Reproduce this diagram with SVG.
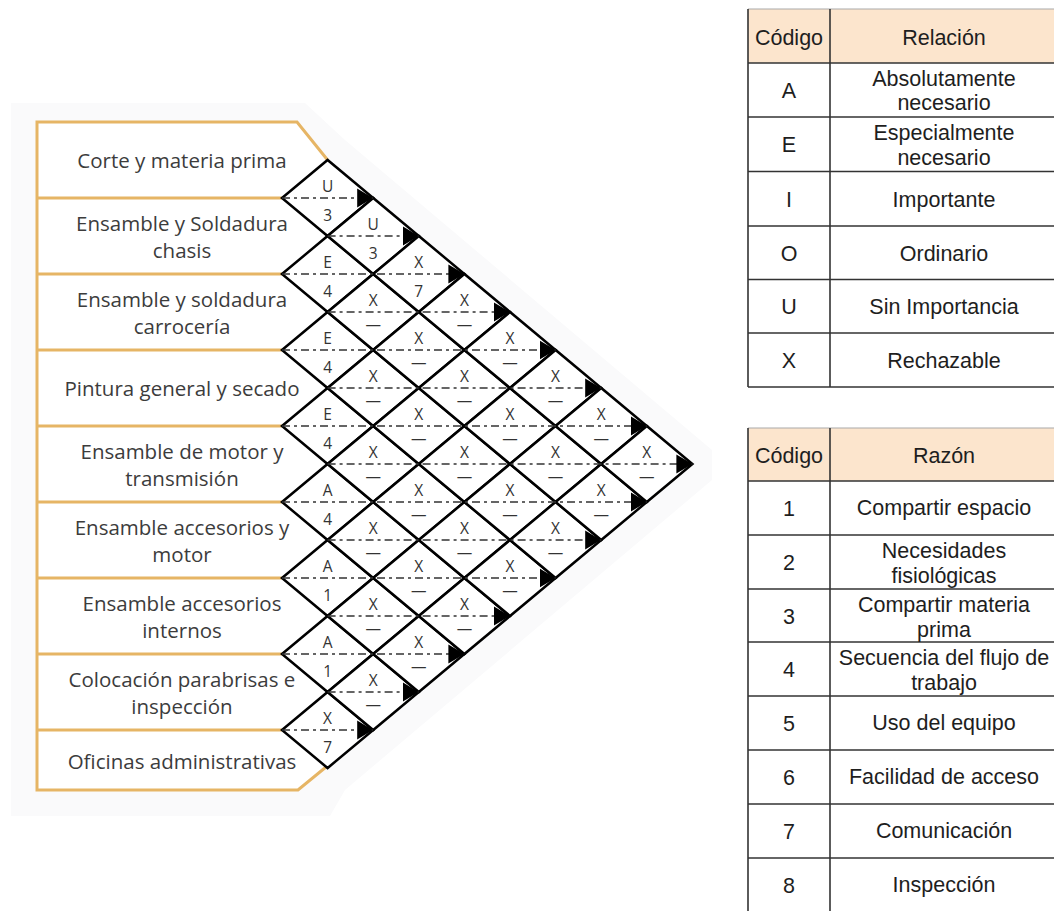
<svg xmlns="http://www.w3.org/2000/svg" width="1054" height="911" viewBox="0 0 1054 911">
<defs>
<style>
.lbl{font-family:"Open Sans","Noto Sans",sans-serif;font-size:20.5px;fill:#3c3c3c;text-anchor:middle}
.sep{stroke:#E6B565;stroke-width:3;fill:none}
.dia{fill:#fff;stroke:#000;stroke-width:2.5;stroke-linejoin:miter}
.ct{font-family:"Open Sans","Noto Sans",sans-serif;font-size:15.5px;fill:#333;text-anchor:middle}
.con{stroke:#333;stroke-width:1.6;stroke-dasharray:8 4 3 4;fill:none;marker-end:url(#arr)}
.tt{font-family:"Liberation Sans",Arial,sans-serif;font-size:21.5px;fill:#1e1e1e;text-anchor:middle}
.tl{stroke:#333;stroke-width:1.6;fill:none}
.hd{fill:#FCE5CD}
</style>
<polygon id="dia" class="dia" points="-45.6,0 0,-38 45.6,0 0,38"/>
<marker id="arr" markerUnits="userSpaceOnUse" markerWidth="16" markerHeight="20" viewBox="0 0 15 18" refX="15" refY="9" orient="auto">
<path d="M0,0 L15,9 L0,18 Z" fill="#000"/>
</marker>
</defs>
<rect width="1054" height="911" fill="#fff"/>
<polygon points="11,103 305,103 345,140 712,450 712,480 345,790 330,816 11,816" fill="#fafafb"/>

<g id="frame">
<polygon points="37,122 297,122 327.6,160 282,198 327.6,236 282,274 327.6,312 282,350 327.6,388 282,426 327.6,464 282,502 327.6,540 282,578 327.6,616 282,654 327.6,692 282,730 327.6,768 298,790 37,790" fill="#fff" stroke="none"/>
<polyline class="sep" points="327.6,160 297,122 37,122 37,790 298,790 326,767"/>
<line class="sep" x1="37" y1="198" x2="282" y2="198"/>
<line class="sep" x1="37" y1="274" x2="282" y2="274"/>
<line class="sep" x1="37" y1="350" x2="282" y2="350"/>
<line class="sep" x1="37" y1="426" x2="282" y2="426"/>
<line class="sep" x1="37" y1="502" x2="282" y2="502"/>
<line class="sep" x1="37" y1="578" x2="282" y2="578"/>
<line class="sep" x1="37" y1="654" x2="282" y2="654"/>
<line class="sep" x1="37" y1="730" x2="282" y2="730"/>
</g>

<g id="dept-0"><text class="lbl" x="182" y="168">Corte y materia prima</text></g>
<g id="dept-1"><text class="lbl" x="182" y="231">Ensamble y Soldadura</text><text class="lbl" x="182" y="258">chasis</text></g>
<g id="dept-2"><text class="lbl" x="182" y="307">Ensamble y soldadura</text><text class="lbl" x="182" y="334">carrocería</text></g>
<g id="dept-3"><text class="lbl" x="182" y="396">Pintura general y secado</text></g>
<g id="dept-4"><text class="lbl" x="182" y="459">Ensamble de motor y</text><text class="lbl" x="182" y="486">transmisión</text></g>
<g id="dept-5"><text class="lbl" x="182" y="535">Ensamble accesorios y</text><text class="lbl" x="182" y="562">motor</text></g>
<g id="dept-6"><text class="lbl" x="182" y="611">Ensamble accesorios</text><text class="lbl" x="182" y="638">internos</text></g>
<g id="dept-7"><text class="lbl" x="182" y="687">Colocación parabrisas e</text><text class="lbl" x="182" y="714">inspección</text></g>
<g id="dept-8"><text class="lbl" x="182" y="769">Oficinas administrativas</text></g>

<g id="cells">
<g id="c-0-1" transform="translate(327.6,198)"><use href="#dia"/></g>
<g id="c-1-2" transform="translate(327.6,274)"><use href="#dia"/></g>
<g id="c-2-3" transform="translate(327.6,350)"><use href="#dia"/></g>
<g id="c-3-4" transform="translate(327.6,426)"><use href="#dia"/></g>
<g id="c-4-5" transform="translate(327.6,502)"><use href="#dia"/></g>
<g id="c-5-6" transform="translate(327.6,578)"><use href="#dia"/></g>
<g id="c-6-7" transform="translate(327.6,654)"><use href="#dia"/></g>
<g id="c-7-8" transform="translate(327.6,730)"><use href="#dia"/></g>
<g id="c-0-2" transform="translate(373.2,236)"><use href="#dia"/></g>
<g id="c-1-3" transform="translate(373.2,312)"><use href="#dia"/></g>
<g id="c-2-4" transform="translate(373.2,388)"><use href="#dia"/></g>
<g id="c-3-5" transform="translate(373.2,464)"><use href="#dia"/></g>
<g id="c-4-6" transform="translate(373.2,540)"><use href="#dia"/></g>
<g id="c-5-7" transform="translate(373.2,616)"><use href="#dia"/></g>
<g id="c-6-8" transform="translate(373.2,692)"><use href="#dia"/></g>
<g id="c-0-3" transform="translate(418.8,274)"><use href="#dia"/></g>
<g id="c-1-4" transform="translate(418.8,350)"><use href="#dia"/></g>
<g id="c-2-5" transform="translate(418.8,426)"><use href="#dia"/></g>
<g id="c-3-6" transform="translate(418.8,502)"><use href="#dia"/></g>
<g id="c-4-7" transform="translate(418.8,578)"><use href="#dia"/></g>
<g id="c-5-8" transform="translate(418.8,654)"><use href="#dia"/></g>
<g id="c-0-4" transform="translate(464.4,312)"><use href="#dia"/></g>
<g id="c-1-5" transform="translate(464.4,388)"><use href="#dia"/></g>
<g id="c-2-6" transform="translate(464.4,464)"><use href="#dia"/></g>
<g id="c-3-7" transform="translate(464.4,540)"><use href="#dia"/></g>
<g id="c-4-8" transform="translate(464.4,616)"><use href="#dia"/></g>
<g id="c-0-5" transform="translate(510,350)"><use href="#dia"/></g>
<g id="c-1-6" transform="translate(510,426)"><use href="#dia"/></g>
<g id="c-2-7" transform="translate(510,502)"><use href="#dia"/></g>
<g id="c-3-8" transform="translate(510,578)"><use href="#dia"/></g>
<g id="c-0-6" transform="translate(555.6,388)"><use href="#dia"/></g>
<g id="c-1-7" transform="translate(555.6,464)"><use href="#dia"/></g>
<g id="c-2-8" transform="translate(555.6,540)"><use href="#dia"/></g>
<g id="c-0-7" transform="translate(601.2,426)"><use href="#dia"/></g>
<g id="c-1-8" transform="translate(601.2,502)"><use href="#dia"/></g>
<g id="c-0-8" transform="translate(646.8,464)"><use href="#dia"/></g>
</g>

<g id="connectors">
<line class="con" x1="282" y1="198" x2="373.2" y2="198"/>
<line class="con" x1="327.6" y1="236" x2="418.8" y2="236"/>
<line class="con" x1="282" y1="274" x2="464.4" y2="274"/>
<line class="con" x1="327.6" y1="312" x2="510" y2="312"/>
<line class="con" x1="282" y1="350" x2="555.6" y2="350"/>
<line class="con" x1="327.6" y1="388" x2="601.2" y2="388"/>
<line class="con" x1="282" y1="426" x2="646.8" y2="426"/>
<line class="con" x1="327.6" y1="464" x2="692.4" y2="464"/>
<line class="con" x1="282" y1="502" x2="646.8" y2="502"/>
<line class="con" x1="327.6" y1="540" x2="601.2" y2="540"/>
<line class="con" x1="282" y1="578" x2="555.6" y2="578"/>
<line class="con" x1="327.6" y1="616" x2="510" y2="616"/>
<line class="con" x1="282" y1="654" x2="464.4" y2="654"/>
<line class="con" x1="327.6" y1="692" x2="418.8" y2="692"/>
<line class="con" x1="282" y1="730" x2="373.2" y2="730"/>
</g>

<g id="cell-labels">
<g transform="translate(327.6,198)"><text class="ct" y="-6">U</text><text class="ct" y="23">3</text></g>
<g transform="translate(327.6,274)"><text class="ct" y="-6">E</text><text class="ct" y="23">4</text></g>
<g transform="translate(327.6,350)"><text class="ct" y="-6">E</text><text class="ct" y="23">4</text></g>
<g transform="translate(327.6,426)"><text class="ct" y="-6">E</text><text class="ct" y="23">4</text></g>
<g transform="translate(327.6,502)"><text class="ct" y="-6">A</text><text class="ct" y="23">4</text></g>
<g transform="translate(327.6,578)"><text class="ct" y="-6">A</text><text class="ct" y="23">1</text></g>
<g transform="translate(327.6,654)"><text class="ct" y="-6">A</text><text class="ct" y="23">1</text></g>
<g transform="translate(327.6,730)"><text class="ct" y="-6">X</text><text class="ct" y="23">7</text></g>
<g transform="translate(373.2,236)"><text class="ct" y="-6">U</text><text class="ct" y="23">3</text></g>
<g transform="translate(373.2,312)"><text class="ct" y="-6">X</text><text class="ct" y="18">—</text></g>
<g transform="translate(373.2,388)"><text class="ct" y="-6">X</text><text class="ct" y="18">—</text></g>
<g transform="translate(373.2,464)"><text class="ct" y="-6">X</text><text class="ct" y="18">—</text></g>
<g transform="translate(373.2,540)"><text class="ct" y="-6">X</text><text class="ct" y="18">—</text></g>
<g transform="translate(373.2,616)"><text class="ct" y="-6">X</text><text class="ct" y="18">—</text></g>
<g transform="translate(373.2,692)"><text class="ct" y="-6">X</text><text class="ct" y="18">—</text></g>
<g transform="translate(418.8,274)"><text class="ct" y="-6">X</text><text class="ct" y="23">7</text></g>
<g transform="translate(418.8,350)"><text class="ct" y="-6">X</text><text class="ct" y="18">—</text></g>
<g transform="translate(418.8,426)"><text class="ct" y="-6">X</text><text class="ct" y="18">—</text></g>
<g transform="translate(418.8,502)"><text class="ct" y="-6">X</text><text class="ct" y="18">—</text></g>
<g transform="translate(418.8,578)"><text class="ct" y="-6">X</text><text class="ct" y="18">—</text></g>
<g transform="translate(418.8,654)"><text class="ct" y="-6">X</text><text class="ct" y="18">—</text></g>
<g transform="translate(464.4,312)"><text class="ct" y="-6">X</text><text class="ct" y="18">—</text></g>
<g transform="translate(464.4,388)"><text class="ct" y="-6">X</text><text class="ct" y="18">—</text></g>
<g transform="translate(464.4,464)"><text class="ct" y="-6">X</text><text class="ct" y="18">—</text></g>
<g transform="translate(464.4,540)"><text class="ct" y="-6">X</text><text class="ct" y="18">—</text></g>
<g transform="translate(464.4,616)"><text class="ct" y="-6">X</text><text class="ct" y="18">—</text></g>
<g transform="translate(510,350)"><text class="ct" y="-6">X</text><text class="ct" y="18">—</text></g>
<g transform="translate(510,426)"><text class="ct" y="-6">X</text><text class="ct" y="18">—</text></g>
<g transform="translate(510,502)"><text class="ct" y="-6">X</text><text class="ct" y="18">—</text></g>
<g transform="translate(510,578)"><text class="ct" y="-6">X</text><text class="ct" y="18">—</text></g>
<g transform="translate(555.6,388)"><text class="ct" y="-6">X</text><text class="ct" y="18">—</text></g>
<g transform="translate(555.6,464)"><text class="ct" y="-6">X</text><text class="ct" y="18">—</text></g>
<g transform="translate(555.6,540)"><text class="ct" y="-6">X</text><text class="ct" y="18">—</text></g>
<g transform="translate(601.2,426)"><text class="ct" y="-6">X</text><text class="ct" y="18">—</text></g>
<g transform="translate(601.2,502)"><text class="ct" y="-6">X</text><text class="ct" y="18">—</text></g>
<g transform="translate(646.8,464)"><text class="ct" y="-6">X</text><text class="ct" y="18">—</text></g>
</g>

<g id="table-relacion">
<rect class="hd" x="748" y="9" width="310" height="54"/>
<line x1="748" y1="9" x2="1054" y2="9" stroke="#aaa" stroke-width="1.2"/>
<line class="tl" x1="748" y1="63" x2="1054" y2="63"/>
<line class="tl" x1="748" y1="117" x2="1054" y2="117"/>
<line class="tl" x1="748" y1="171.5" x2="1054" y2="171.5"/>
<line class="tl" x1="748" y1="226" x2="1054" y2="226"/>
<line class="tl" x1="748" y1="279.5" x2="1054" y2="279.5"/>
<line class="tl" x1="748" y1="333" x2="1054" y2="333"/>
<line class="tl" x1="748" y1="387" x2="1054" y2="387"/>
<line class="tl" x1="748" y1="9" x2="748" y2="387"/>
<line class="tl" x1="830" y1="9" x2="830" y2="387" stroke="#666"/>
<text class="tt" x="789" y="45">Código</text>
<text class="tt" x="944" y="45">Relación</text>
<text class="tt" x="789" y="98">A</text>
<text class="tt" x="944" y="85.5">Absolutamente</text>
<text class="tt" x="944" y="110">necesario</text>
<text class="tt" x="789" y="152">E</text>
<text class="tt" x="944" y="140">Especialmente</text>
<text class="tt" x="944" y="165">necesario</text>
<text class="tt" x="789" y="206.5">I</text>
<text class="tt" x="944" y="206.5">Importante</text>
<text class="tt" x="789" y="260.5">O</text>
<text class="tt" x="944" y="260.5">Ordinario</text>
<text class="tt" x="789" y="314">U</text>
<text class="tt" x="944" y="314">Sin Importancia</text>
<text class="tt" x="789" y="368">X</text>
<text class="tt" x="944" y="368">Rechazable</text>
</g>

<g id="table-razon">
<rect class="hd" x="748" y="428" width="310" height="53"/>
<line x1="748" y1="428" x2="1054" y2="428" stroke="#aaa" stroke-width="1.2"/>
<line class="tl" x1="748" y1="481" x2="1054" y2="481"/>
<line class="tl" x1="748" y1="535" x2="1054" y2="535"/>
<line class="tl" x1="748" y1="589" x2="1054" y2="589"/>
<line class="tl" x1="748" y1="642" x2="1054" y2="642"/>
<line class="tl" x1="748" y1="696" x2="1054" y2="696"/>
<line class="tl" x1="748" y1="750" x2="1054" y2="750"/>
<line class="tl" x1="748" y1="804" x2="1054" y2="804"/>
<line class="tl" x1="748" y1="858" x2="1054" y2="858"/>
<line class="tl" x1="748" y1="428" x2="748" y2="911"/>
<line class="tl" x1="830" y1="428" x2="830" y2="911" stroke="#666"/>
<text class="tt" x="789" y="463">Código</text>
<text class="tt" x="944" y="463">Razón</text>
<text class="tt" x="789" y="516">1</text>
<text class="tt" x="944" y="515">Compartir espacio</text>
<text class="tt" x="789" y="570">2</text>
<text class="tt" x="944" y="558">Necesidades</text>
<text class="tt" x="944" y="583">fisiológicas</text>
<text class="tt" x="789" y="623.5">3</text>
<text class="tt" x="944" y="611.5">Compartir materia</text>
<text class="tt" x="944" y="636.5">prima</text>
<text class="tt" x="789" y="677">4</text>
<text class="tt" x="944" y="665">Secuencia del flujo de</text>
<text class="tt" x="944" y="690">trabajo</text>
<text class="tt" x="789" y="731">5</text>
<text class="tt" x="944" y="730">Uso del equipo</text>
<text class="tt" x="789" y="785">6</text>
<text class="tt" x="944" y="784">Facilidad de acceso</text>
<text class="tt" x="789" y="839">7</text>
<text class="tt" x="944" y="838">Comunicación</text>
<text class="tt" x="789" y="892.5">8</text>
<text class="tt" x="944" y="892">Inspección</text>
</g>
</svg>
